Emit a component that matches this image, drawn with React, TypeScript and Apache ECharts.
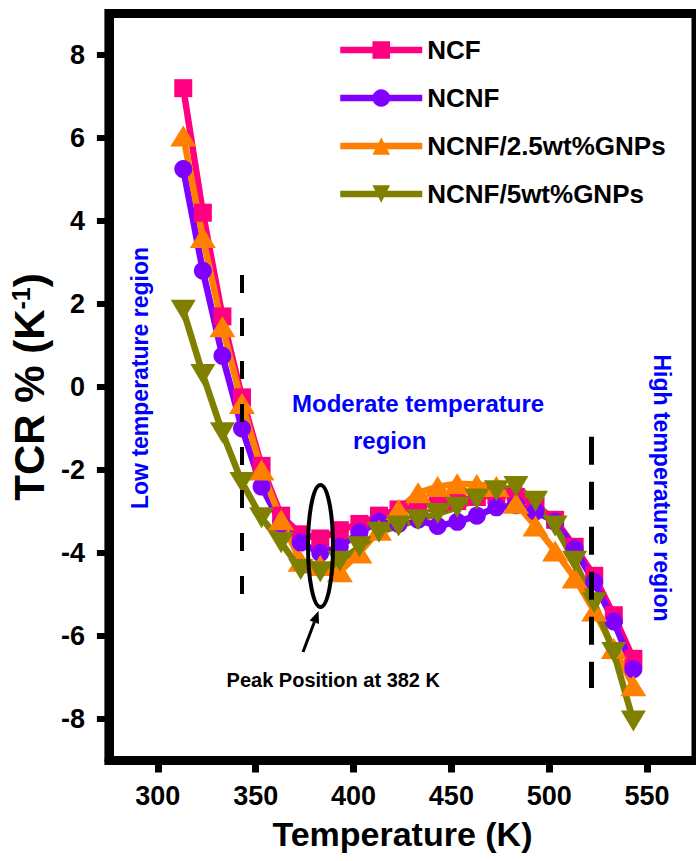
import React, { useEffect, useRef } from "react";
import * as echarts from "echarts";

const temperatures = [313, 323, 333, 343, 353, 363, 373, 383, 393, 403, 413, 423, 433, 443, 453, 463, 473, 483, 493, 503, 513, 523, 533, 543];
const ncf = [7.2, 4.2, 1.7, -0.25, -1.9, -3.1, -3.55, -3.65, -3.45, -3.3, -3.1, -2.95, -2.85, -2.8, -2.75, -2.65, -2.6, -2.65, -2.85, -3.2, -3.85, -4.55, -5.5, -6.55];
const ncnf = [5.25, 2.8, 0.75, -1.0, -2.4, -3.3, -3.75, -4.0, -3.85, -3.5, -3.25, -3.3, -3.2, -3.35, -3.25, -3.1, -2.9, -2.85, -3.0, -3.25, -3.9, -4.7, -5.65, -6.8];
const ncnf25 = [6.05, 3.6, 1.45, -0.4, -2.0, -3.2, -4.2, -4.3, -4.45, -4.0, -3.45, -2.95, -2.55, -2.4, -2.33, -2.35, -2.4, -2.8, -3.35, -3.95, -4.6, -5.4, -6.3, -7.2];
const ncnf5 = [1.85, 0.3, -1.1, -2.3, -3.15, -3.75, -4.4, -4.45, -4.2, -3.85, -3.5, -3.35, -3.2, -3.05, -2.9, -2.7, -2.5, -2.4, -2.75, -3.35, -4.2, -5.2, -6.4, -8.05];
const seriesNames = ["NCF", "NCNF", "NCNF/2.5wt%GNPs", "NCNF/5wt%GNPs"];
const xTickValues = [300, 350, 400, 450, 500, 550];
const yTickValues = [-8, -6, -4, -2, 0, 2, 4, 6, 8];
// region boundary markers (K, TCR top, TCR bottom)
const lowBoundary = [343, 2.7, -5.05];
const highBoundary = [521.5, -1.2, -7.25];

const FONT = '"Liberation Sans", Arial, sans-serif';

function pairs(ys: number[]) {
  return temperatures.map((t, i) => [t, ys[i]]);
}

export default function App() {
  const ref = useRef<HTMLDivElement>(null);
  useEffect(() => {
    if (!ref.current) return;
    const chart = echarts.init(ref.current, undefined, { renderer: "svg" });
    const lineW = 6.5;
    const blue = "#0000ff";
    const option: any = {
      animation: false,
      backgroundColor: "#fff",
      textStyle: { fontFamily: FONT },
      grid: {
        left: 104,
        top: 13.5,
        width: 600,
        height: 747,
        show: true,
        borderColor: "#000",
        borderWidth: 9,
        backgroundColor: "transparent",
      },
      legend: {
        orient: "vertical",
        left: 332,
        top: 32,
        itemWidth: 82,
        itemHeight: 22,
        itemGap: 22,
        textStyle: { fontSize: 26, fontWeight: "bold", color: "#000", fontFamily: FONT },
        lineStyle: { width: lineW },
        data: seriesNames,
      },
      xAxis: {
        type: "value",
        min: 275,
        max: 575,
        name: "Temperature (K)",
        nameLocation: "middle",
        nameGap: 56,
        nameTextStyle: { fontSize: 34, fontWeight: "bold", color: "#000", fontFamily: FONT },
        axisLine: { onZero: false, lineStyle: { color: "#000", width: 9 } },
        axisTick: { length: 12, lineStyle: { width: 7, color: "#000" }, customValues: xTickValues },
        axisLabel: { fontSize: 27, fontWeight: "bold", color: "#000", margin: 22, customValues: xTickValues, fontFamily: FONT },
        splitLine: { show: false },
      },
      yAxis: {
        type: "value",
        min: -9,
        max: 9,
        name: "TCR % (K{sup|-1})",
        nameLocation: "middle",
        nameGap: 50,
        nameTextStyle: {
          fontSize: 42,
          fontWeight: "bold",
          color: "#000",
          fontFamily: FONT,
          rich: { sup: { fontSize: 25, fontWeight: "bold", color: "#000", verticalAlign: "top", fontFamily: FONT } },
        },
        axisLine: { onZero: false, lineStyle: { color: "#000", width: 9 } },
        axisTick: { length: 12, lineStyle: { width: 6, color: "#000" }, customValues: yTickValues },
        axisLabel: { fontSize: 27, fontWeight: "bold", color: "#000", margin: 24, customValues: yTickValues, fontFamily: FONT },
        splitLine: { show: false },
      },
      series: [
        {
          name: seriesNames[0],
          type: "line",
          data: pairs(ncf),
          symbol: "rect",
          symbolSize: 18,
          color: "#ff0080",
          lineStyle: { width: lineW, color: "#ff0080" },
          itemStyle: { color: "#ff0080" },
          markLine: {
            silent: true,
            symbol: ["none", "none"],
            label: { show: false },
            data: [
              [
                { coord: [lowBoundary[0], lowBoundary[1]], lineStyle: { color: "#000", width: 4, type: [18, 25] } },
                { coord: [lowBoundary[0], lowBoundary[2]] },
              ],
              [
                { coord: [highBoundary[0], highBoundary[1]], lineStyle: { color: "#000", width: 5, type: [28, 17] } },
                { coord: [highBoundary[0], highBoundary[2]] },
              ],
            ],
          },
        },
        {
          name: seriesNames[1],
          type: "line",
          data: pairs(ncnf),
          symbol: "circle",
          symbolSize: 18,
          color: "#8000ff",
          lineStyle: { width: lineW, color: "#8000ff" },
          itemStyle: { color: "#8000ff" },
        },
        {
          name: seriesNames[2],
          type: "line",
          data: pairs(ncnf25),
          symbol: "triangle",
          symbolSize: [26, 21],
          color: "#ff8000",
          lineStyle: { width: lineW, color: "#ff8000" },
          itemStyle: { color: "#ff8000" },
        },
        {
          name: seriesNames[3],
          type: "line",
          data: pairs(ncnf5),
          symbol: "triangle",
          symbolRotate: 180,
          symbolSize: [25, 21],
          color: "#808000",
          lineStyle: { width: lineW, color: "#808000" },
          itemStyle: { color: "#808000" },
        },
      ],
      graphic: [
        {
          type: "text",
          x: 140,
          y: 378,
          rotation: Math.PI / 2,
          style: { text: "Low temperature region", fill: blue, fontSize: 23, fontWeight: "bold", fontFamily: FONT, align: "center", verticalAlign: "middle" },
        },
        {
          type: "text",
          x: 662,
          y: 488,
          rotation: -Math.PI / 2,
          style: { text: "High temperature region", fill: blue, fontSize: 23, fontWeight: "bold", fontFamily: FONT, align: "center", verticalAlign: "middle" },
        },
        {
          type: "text",
          x: 292,
          y: 403,
          style: { text: "Moderate temperature", fill: blue, fontSize: 24, fontWeight: "bold", fontFamily: FONT, align: "left", verticalAlign: "middle" },
        },
        {
          type: "text",
          x: 353,
          y: 440,
          style: { text: "region", fill: blue, fontSize: 24, fontWeight: "bold", fontFamily: FONT, align: "left", verticalAlign: "middle" },
        },
        {
          type: "text",
          x: 440,
          y: 680,
          style: { text: "Peak Position at 382 K", fill: "#000", fontSize: 20, fontWeight: "bold", fontFamily: FONT, align: "right", verticalAlign: "middle" },
        },
        {
          type: "ellipse",
          shape: { cx: 320.5, cy: 546, rx: 12.5, ry: 61 },
          style: { fill: "none", stroke: "#000", lineWidth: 4 },
          z: 100,
        },
        {
          type: "line",
          shape: { x1: 303, y1: 652, x2: 314.3, y2: 622.2 },
          style: { stroke: "#000", lineWidth: 3 },
          z: 100,
        },
        {
          type: "polygon",
          shape: { points: [[318.5, 611], [319.0, 624.0], [309.6, 620.4]] },
          style: { fill: "#000" },
          z: 100,
        },
      ],
    };
    chart.setOption(option);
    return () => chart.dispose();
  }, []);
  return <div ref={ref} style={{ position: "absolute", left: 0, top: 0, width: 696, height: 861 }} />;
}
